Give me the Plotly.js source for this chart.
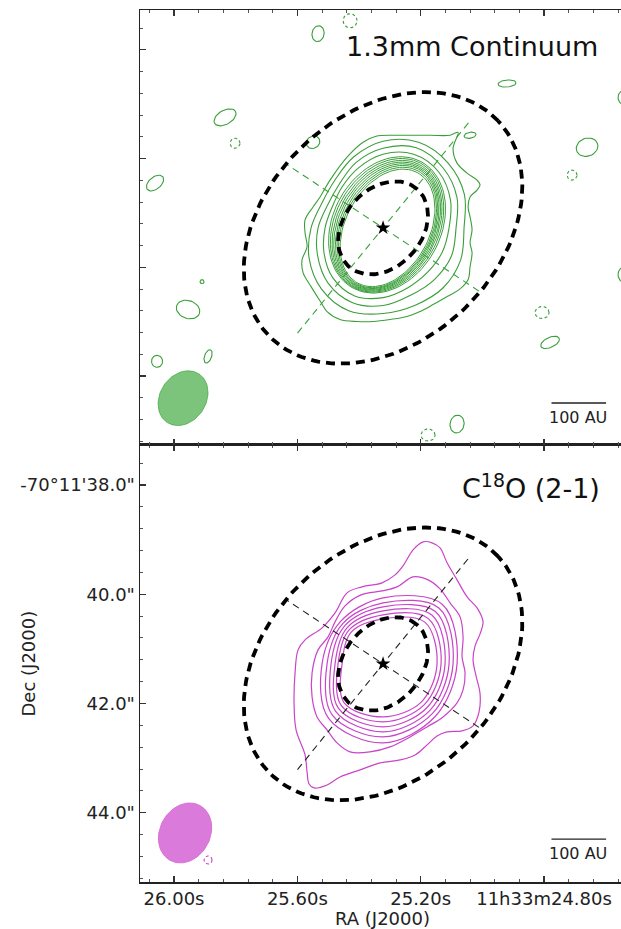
<!DOCTYPE html>
<html><head><meta charset="utf-8">
<script src="https://cdn.plot.ly/plotly-3.0.1.min.js"></script>
<style>html,body{margin:0;padding:0;background:#fff}</style>
</head><body><div id="chart" style="width:621px;height:929px"></div>
<script>
// ---------- map geometry (11h33m.., -70d11'..) ----------
const STAR_RA = 25.322;          // seconds of 11h33m
const STAR_DEC = 41.275;         // arcsec of -70d11'
const PIX_RA_SEC = 0.0032433;    // RA seconds per map pixel (plotted)
const PIX_DEC_ARCSEC = 0.018315; // Dec arcsec per map pixel
const X_RANGE = [26.1103, 24.5503];
const Y_RANGE = [45.268, 37.268];

// ---------- ticks ----------
const xTickVals = [26.0, 25.6, 25.2, 24.8];
const xTickText = ['26.00s', '25.60s', '25.20s', '11h33m24.80s'];
const yTickVals = [38, 40, 42, 44];
const yTickText = ['-70°11\'38.0"', '40.0"', '42.0"', '44.0"'];

// ---------- 1.3mm continuum contours (map-pixel offsets from star, x west, y north) ----------
const contOuterX = [-7,10,27,47,67,75,70,74,84,94,97,94,87,85,87,89,87,89,87,85,76,64,50,37,24,7,-10,-26,-43,-56,-62,-72,-80,-81,-76,-78,-78,-70,-63,-53,-36,-20];
const contOuterY = [92,93,93,93,93,96,80,65,55,48,43,38,31,21,11,-2,-15,-25,-39,-52,-62,-69,-77,-84,-89,-92,-94,-94,-92,-84,-75,-59,-45,-32,-19,-5,8,21,31,48,71,86];
const angles16 = [0,22.5,45,67.5,90,112.5,135,157.5,180,202.5,225,247.5,270,292.5,315,337.5];
const contLevel2R = [81,88,92,93,87,77,68,66,72,80,87,90,86,84,85,84];
const contLevel3R = [73,80,85,87,80,71,62,60,65,71,78,81,78,73,73,74];
const contLevel4R = [66,73,79,80,74,65,58,55,58,64,71,74,70,65,63,64];
// tightly packed inner contours (ellipse fits)
const contRingA  = [63, 64.5, 65.8, 67, 68.2, 69.5, 70.8, 72];
const contRingB  = [42, 43.6, 45.1, 46.7, 48.4, 50.1, 52, 54];
const contRingCx = [4.5, 4.5, 4.4, 4.2, 4.1, 4, 4, 4];
const contRingCy = [0, 0.4, 0.9, 1.3, 1.7, 2.1, 2.6, 3];
const contRingPA = 62;
// isolated noise contours (positive)
const noiseX  = [-65,124,241,-158,-70,87,204,-228,-195,-181,-175,-226,167,240,74];
const noiseY  = [195,145,131,111,86,93,81,45,-82,-54,-129,-134,-115,-47,-197];
const noiseA  = [8,9,7,12,7,6,11,10,12,2,7,6,10,7,9];
const noiseB  = [6,3.5,6,7,6,3,9,6,9,2,3.5,5.5,5,5,7];
const noisePA = [80,5,90,30,30,10,20,40,-20,0,70,90,25,90,80];
// negative noise contours
const negX = [-33,-148,189,159,45];
const negY = [208,85,53,-85,-208];
const negA = [7,5,5,7,7];
const negB = [7,5,5,6,6];

// ---------- C18O (2-1) contours ----------
const lineOuterX = [40,49,57,64,74,84,94,100,97,92,90,93,97,96,90,79,64,54,44,32,17,-3,-23,-43,-56,-69,-74,-76,-78,-87,-89,-88,-85,-78,-61,-48,-36,-21,-1,12,20,30];
const lineOuterY = [122,121,116,101,84,67,56,42,30,18,4,-12,-30,-48,-62,-67,-68,-72,-81,-91,-96,-99,-106,-113,-121,-124,-120,-108,-91,-66,-39,-9,14,24,36,51,71,77,81,89,98,114];
const line2X = [30,45,57,67,77,80,79,82,80,74,60,44,27,7,-13,-33,-46,-56,-66,-71,-71,-65,-55,-48,-38,-22,-1,14];
const line2Y = [87,84,75,61,47,27,7,-9,-26,-39,-53,-63,-73,-83,-88,-88,-79,-66,-53,-33,-9,14,27,42,58,69,73,77];
const angles8 = [0,45,90,135,180,225,270,315];
const lineInnerR = [
  [74,84,66,60,61,77,79,74],
  [70,79,61,57,56,72,73,70],
  [66,74,57,54,52,67,68,66],
  [62,69,53,51,48,63,63,62],
  [58,64,49,48,45,59,58,58],
  [54,59,45,45,41,55,53,54]
];
const lineNegX = [-175], lineNegY = [-196], lineNegA = [4], lineNegB = [4];

// ---------- disk model, beams, scale ----------
const diskOuter = {a:157.4, b:114.9, pa:43};
const diskInner = {a:51.8, b:39.0, pa:49};
const axisAngle = [51, 146.5];
const axisHalfLen = [136, 115];
const beamTop = {x:-200, y:-171, a:29.1, b:23.1, pa:57.4};
const beamBot = {x:-198, y:-169, a:31.2, b:25.2, pa:61.7};
const SCALE_AU = 100, DIST_PC = 100;   // 100 AU -> 1.0"

// ---------- helpers ----------
function toData(dx, dy){ return {x: dx.map(v=>STAR_RA - v*PIX_RA_SEC), y: dy.map(v=>STAR_DEC - v*PIX_DEC_ARCSEC)}; }
function closed(x, y){ return [x.concat([x[0]]), y.concat([y[0]])]; }
function polar(angles, r){ const x=[],y=[]; angles.forEach((a,i)=>{const t=a*Math.PI/180; x.push(r[i]*Math.cos(t)); y.push(r[i]*Math.sin(t));}); return closed(x,y); }
function ellipse(cx, cy, a, b, pa, n){ n=n||90; const x=[],y=[]; const p=pa*Math.PI/180; for(let i=0;i<=n;i++){const t=2*Math.PI*i/n; const u=a*Math.cos(t), v=b*Math.sin(t); x.push(cx+u*Math.cos(p)-v*Math.sin(p)); y.push(cy+u*Math.sin(p)+v*Math.cos(p));} return [x,y]; }
function trace(xy, ax, color, width, dash, spline, fill){
  const d = toData(xy[0], xy[1]);
  const t = {type:'scatter', mode:'lines', x:d.x, y:d.y, xaxis:ax[0], yaxis:ax[1], hoverinfo:'skip',
    line:{color:color, width:width, dash:dash||'solid', shape: spline?'spline':'linear', smoothing:1}};
  if(fill){ t.fill='toself'; t.fillcolor=fill; }
  return t;
}

const GREEN = '#3a9f3a', MAG = '#c944c9';
const TOP = ['x2','y2'], BOT = ['x','y'];
const traces = [];

// top panel contours
traces.push(trace(closed(contOuterX, contOuterY), TOP, GREEN, 1.1, null, true));
[contLevel2R, contLevel3R, contLevel4R].forEach(r=>traces.push(trace(polar(angles16, r), TOP, GREEN, 1.1, null, true)));
contRingA.forEach((a,i)=>traces.push(trace(ellipse(contRingCx[i], contRingCy[i], a, contRingB[i], contRingPA), TOP, GREEN, 1.0)));
noiseX.forEach((x,i)=>traces.push(trace(ellipse(x, noiseY[i], noiseA[i], noiseB[i], noisePA[i], 40), TOP, GREEN, 1.1)));
negX.forEach((x,i)=>traces.push(trace(ellipse(x, negY[i], negA[i], negB[i], 0, 40), TOP, GREEN, 1.1, '3px,2.5px')));

// bottom panel contours
traces.push(trace(closed(lineOuterX, lineOuterY), BOT, MAG, 1.2, null, true));
traces.push(trace(closed(line2X, line2Y), BOT, MAG, 1.2, null, true));
lineInnerR.forEach(r=>traces.push(trace(polar(angles8, r), BOT, MAG, 1.2, null, true)));
lineNegX.forEach((x,i)=>traces.push(trace(ellipse(x, lineNegY[i], lineNegA[i], lineNegB[i], 0, 30), BOT, MAG, 1.1, '3px,2.5px')));

// disk model, axes, star, beam for each panel
[[TOP, GREEN, beamTop, 'rgba(44,160,44,0.62)'], [BOT, '#222', beamBot, 'rgba(214,108,214,0.9)']].forEach(([ax, axisColor, beam, beamFill])=>{
  axisAngle.forEach((ang,i)=>{
    const t=ang*Math.PI/180, L=axisHalfLen[i];
    traces.push(trace([[-L*Math.cos(t), L*Math.cos(t)], [-L*Math.sin(t), L*Math.sin(t)]], ax, axisColor, 1.1, '7px,5px'));
  });
  [diskOuter, diskInner].forEach(e=>traces.push(trace(ellipse(0,0,e.a,e.b,e.pa,180), ax, '#000', 3.8, '9px,6px')));
  const s = toData([0],[0]);
  traces.push({type:'scatter', mode:'markers', x:s.x, y:s.y, xaxis:ax[0], yaxis:ax[1], hoverinfo:'skip',
    marker:{symbol:'star', size:11, color:'#000'}});
  traces.push(trace(ellipse(beam.x, beam.y, beam.a, beam.b, beam.pa, 90), ax, beamFill, 1, null, false, beamFill));
});

// ---------- axes ----------
const tickFont = {family:'DejaVu Sans', size:18, color:'#222'};
function axis(extra){
  return Object.assign({showline:true, linecolor:'#222', linewidth:1.5, ticks:'inside', ticklen:6, tickwidth:1.2,
    tickcolor:'#333', showgrid:false, zeroline:false, tickfont:tickFont, fixedrange:true}, extra);
}
const xMinor = {tickmode:'linear', tick0:24.8, dtick:0.08, ticks:'inside', ticklen:3, tickcolor:'#555', tickwidth:1};
const yMinor = {tickmode:'linear', tick0:38, dtick:0.4, ticks:'inside', ticklen:3, tickcolor:'#555', tickwidth:1};

const pxRA = (X_RANGE[1]-X_RANGE[0]);
const barRight = X_RANGE[0] + 0.969*pxRA;
const barLen = (SCALE_AU/DIST_PC) * (PIX_RA_SEC/PIX_DEC_ARCSEC);
const barLeft = barRight + barLen;

const layout = {
  width:621, height:929, margin:{l:140, r:0, t:10, b:47},
  paper_bgcolor:'#fff', plot_bgcolor:'#fff', showlegend:false,
  font:{family:'DejaVu Sans', color:'#222'},
  xaxis: axis({domain:[0,1], anchor:'y', range:X_RANGE, mirror:'ticks', tickmode:'array', tickvals:xTickVals, ticktext:xTickText, minor:xMinor}),
  yaxis: axis({domain:[0,0.50115], anchor:'x', range:Y_RANGE, mirror:false, tickmode:'array', tickvals:yTickVals, ticktext:yTickText, minor:yMinor}),
  xaxis2: axis({domain:[0,1], anchor:'y2', range:X_RANGE, mirror:'ticks', tickmode:'array', tickvals:xTickVals, showticklabels:false, minor:xMinor}),
  yaxis2: axis({domain:[0.50115,1], anchor:'x2', range:Y_RANGE, mirror:false, tickmode:'array', tickvals:yTickVals, showticklabels:false, minor:yMinor}),
  shapes: [
    {type:'line', xref:'x2', yref:'y2 domain', x0:barLeft, x1:barRight, y0:0.0966, y1:0.0966, line:{color:'#222', width:1.3}},
    {type:'line', xref:'x', yref:'y domain', x0:barLeft, x1:barRight, y0:0.098, y1:0.098, line:{color:'#222', width:1.3}}
  ],
  annotations: [
    {xref:'x2 domain', yref:'y2 domain', x:0.956, y:0.915, xanchor:'right', yanchor:'middle', showarrow:false,
      text:'1.3mm Continuum', font:{family:'DejaVu Sans', size:27, color:'#111'}},
    {xref:'x domain', yref:'y domain', x:0.960, y:0.904, xanchor:'right', yanchor:'middle', showarrow:false,
      text:'C<sup>18</sup>O (2-1)', font:{family:'DejaVu Sans', size:27, color:'#111'}},
    {xref:'x2 domain', yref:'y2 domain', x:0.9116, y:0.064, xanchor:'center', yanchor:'middle', showarrow:false,
      text:'100 AU', font:{family:'DejaVu Sans', size:16, color:'#222'}},
    {xref:'x domain', yref:'y domain', x:0.9116, y:0.066, xanchor:'center', yanchor:'middle', showarrow:false,
      text:'100 AU', font:{family:'DejaVu Sans', size:16, color:'#222'}},
    {xref:'paper', yref:'paper', x:0.504, y:-0.0413, xanchor:'center', yanchor:'middle', showarrow:false,
      text:'RA (J2000)', font:{family:'DejaVu Sans', size:18, color:'#222'}},
    {xref:'paper', yref:'paper', x:-0.2328, y:0.2506, xanchor:'center', yanchor:'middle', showarrow:false, textangle:-90,
      text:'Dec (J2000)', font:{family:'DejaVu Sans', size:18, color:'#222'}}
  ]
};

Plotly.newPlot('chart', traces, layout, {displayModeBar:false, staticPlot:true});
</script>
</body></html>
